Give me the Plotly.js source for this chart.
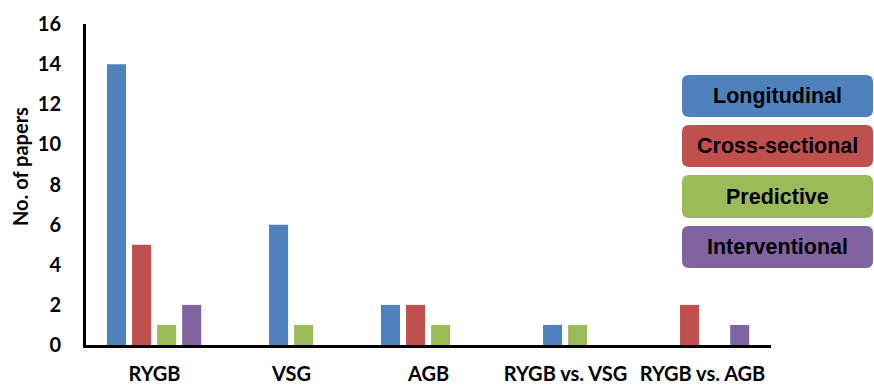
<!DOCTYPE html>
<html>
<head>
<meta charset="utf-8">
<script src="https://cdn.plot.ly/plotly-3.0.1.min.js"></script>
<style>
  html, body { margin: 0; padding: 0; background: #fff; }
  #chart { width: 874px; height: 385px; }
</style>
</head>
<body>
<div id="chart"></div>
<script>
// Study designs per bariatric procedure
const categories = ['RYGB', 'VSG', 'AGB', 'RYGB vs. VSG', 'RYGB vs. AGB'];
const seriesNames = ['Longitudinal', 'Cross-sectional', 'Predictive', 'Interventional'];
const longitudinal = [14, 6, 2, 1, 0];
const crossSectional = [5, 0, 2, 0, 2];
const predictive = [1, 1, 1, 1, 0];
const interventional = [2, 0, 0, 0, 1];
const seriesColors = ['#4F81BD', '#C0504D', '#9BBB59', '#8064A2'];
const yTicks = [0, 2, 4, 6, 8, 10, 12, 14, 16];

// slot within each category group (blue moves next to green where the pair stands alone)
const slots = [
  [0, 1, 0, 1, 0],
  [1, 1, 1, 1, 1],
  [2, 2, 2, 2, 2],
  [3, 3, 3, 3, 3]
];

const seriesValues = [longitudinal, crossSectional, predictive, interventional];

// plot area in pixels
const W = 874, H = 385;
const M = { l: 86, r: 103, t: 24, b: 40 };
const PW = W - M.l - M.r, PH = H - M.t - M.b;
const px = x => (x - M.l) / PW;
const py = y => (H - M.b - y) / PH;

const barWidth = 0.139, slotStart = -0.347, slotStep = 0.183;

const traces = seriesValues.map((vals, i) => ({
  type: 'bar',
  name: seriesNames[i],
  x: categories,
  y: vals,
  width: barWidth,
  offset: slots[i].map(s => slotStart + s * slotStep),
  marker: { color: seriesColors[i], line: { width: 0 } },
  hoverinfo: 'x+y+name'
}));

// rounded legend boxes
function roundedRect(x0, y0, x1, y1, r) {
  const P = (x, y) => px(x).toFixed(5) + ',' + py(y).toFixed(5);
  return 'M' + P(x0 + r, y0) +
    ' L' + P(x1 - r, y0) + ' Q' + P(x1, y0) + ' ' + P(x1, y0 + r) +
    ' L' + P(x1, y1 - r) + ' Q' + P(x1, y1) + ' ' + P(x1 - r, y1) +
    ' L' + P(x0 + r, y1) + ' Q' + P(x0, y1) + ' ' + P(x0, y1 - r) +
    ' L' + P(x0, y0 + r) + ' Q' + P(x0, y0) + ' ' + P(x0 + r, y0) + ' Z';
}
const boxX0 = 682, boxX1 = 873;
const boxRows = [[75, 117], [125, 167], [175, 218], [226, 268]];

const shapes = boxRows.map((r, i) => ({
  type: 'path',
  xref: 'paper', yref: 'paper',
  path: roundedRect(boxX0, r[0], boxX1, r[1], 7),
  fillcolor: seriesColors[i],
  line: { width: 0 },
  layer: 'above'
}));

const annotations = boxRows.map((r, i) => ({
  xref: 'paper', yref: 'paper',
  x: px((boxX0 + boxX1) / 2), y: py((r[0] + r[1]) / 2),
  xanchor: 'center', yanchor: 'middle',
  showarrow: false,
  text: seriesNames[i],
  font: { family: 'Liberation Sans, Arial, sans-serif', size: 21.5, color: '#000', weight: 700 }
}));

annotations.push({
  xref: 'paper', yref: 'paper',
  x: px(20), y: py(167),
  xanchor: 'center', yanchor: 'middle',
  showarrow: false,
  textangle: -90,
  text: 'No. of papers',
  font: { family: 'Lato, Open Sans, sans-serif', size: 20, color: '#000', weight: 700 }
});

const axisFont = { family: 'Lato, Open Sans, sans-serif', color: '#000', weight: 700 };

const layout = {
  width: W, height: H,
  margin: M,
  paper_bgcolor: '#fff', plot_bgcolor: '#fff',
  barmode: 'overlay',
  showlegend: false,
  xaxis: {
    type: 'category',
    categoryorder: 'array', categoryarray: categories,
    range: [-0.5, categories.length - 0.5],
    showline: true, linecolor: '#000', linewidth: 3,
    showgrid: false, zeroline: false,
    ticks: 'outside', ticklen: 9, tickcolor: 'rgba(0,0,0,0)',
    tickfont: Object.assign({ size: 20 }, axisFont)
  },
  yaxis: {
    range: [0, 16],
    tickvals: yTicks,
    ticktext: yTicks.map(String),
    showline: true, linecolor: '#000', linewidth: 3,
    showgrid: false, zeroline: false,
    ticks: 'outside', ticklen: 18, tickcolor: 'rgba(0,0,0,0)',
    tickfont: Object.assign({ size: 20 }, axisFont)
  },
  shapes: shapes,
  annotations: annotations
};

Plotly.newPlot('chart', traces, layout, { displayModeBar: false, staticPlot: true });
</script>
</body>
</html>
